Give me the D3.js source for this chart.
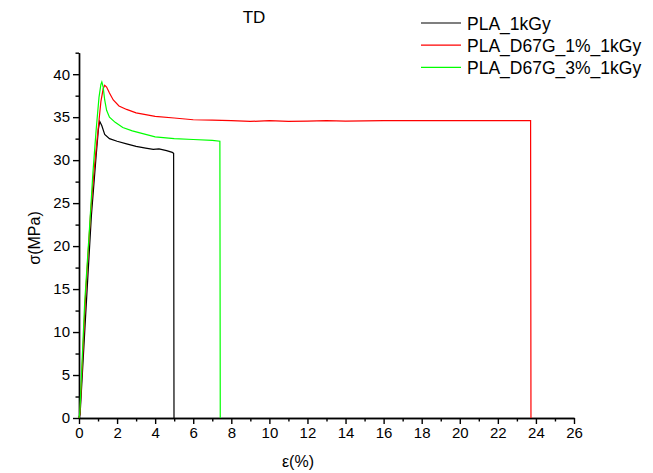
<!DOCTYPE html>
<html>
<head>
<meta charset="utf-8">
<script src="https://cdn.jsdelivr.net/npm/d3@7"></script>
<style>
  body { margin: 0; background: #fff; }
  text { font-family: "Liberation Sans", Arial, sans-serif; fill: #000; }
  .axis path, .axis line { stroke: #000; stroke-width: 1.4; }
  .axis text { font-size: 15px; }
</style>
</head>
<body>
<div id="chart-area"></div>
<script>
// series: strain (%) and stress (MPa)
const seriesNames = ["PLA_1kGy", "PLA_D67G_1%_1kGy", "PLA_D67G_3%_1kGy"];
const seriesColors = ["#000000", "#ff0000", "#00ff00"];

const pla1Strain = [0, 0.06, 0.35, 0.65, 0.9, 1.02, 1.09, 1.2, 1.35, 1.6, 2, 2.5, 3, 3.5, 3.9, 4.2, 4.6, 4.9, 4.97, 4.99];
const pla1Stress = [0, 0.5, 12, 23.5, 30.5, 33.6, 34.5, 34.0, 33.0, 32.5, 32.2, 31.9, 31.6, 31.4, 31.25, 31.3, 31.1, 30.9, 30.8, 0];

const d1Strain = [0, 0.05, 0.35, 0.6, 0.8, 1.0, 1.15, 1.27, 1.35, 1.45, 1.6, 1.8, 2.1, 2.5, 3, 3.5, 4, 5, 6, 7, 8, 9, 10, 11, 12, 13, 14, 16, 18, 20, 22, 23.72, 23.74];
const d1Stress = [0, 0.5, 14.5, 23.5, 29, 33.5, 36.8, 38.3, 38.7, 38.5, 37.8, 37.0, 36.3, 35.9, 35.5, 35.3, 35.1, 34.9, 34.7, 34.65, 34.6, 34.5, 34.6, 34.5, 34.55, 34.6, 34.55, 34.6, 34.6, 34.6, 34.6, 34.6, 0];

const d3Strain = [0, 0.04, 0.3, 0.55, 0.73, 0.9, 1.05, 1.15, 1.2, 1.27, 1.35, 1.45, 1.6, 1.9, 2.3, 2.8, 3.5, 4, 5, 6, 7, 7.4, 7.42];
const d3Stress = [0, 0.5, 13.5, 22, 28.5, 33.5, 37.3, 38.8, 39.1, 38.5, 37.0, 35.8, 35.0, 34.4, 33.8, 33.4, 33.0, 32.7, 32.5, 32.4, 32.3, 32.2, 0];

const xMajorTicks = d3.range(0, 27, 2);
const xMinorTicks = d3.range(1, 26, 2);
const yMajorTicks = d3.range(0, 41, 5);
const yMinorTicks = d3.range(2.5, 43, 5);

let margin = { top: 52.7, right: 79, bottom: 55, left: 79 },
  width = 653 - margin.left - margin.right,
  height = 473 - margin.top - margin.bottom;

let svg = d3
  .select("#chart-area")
  .append("svg")
  .attr("width", 653)
  .attr("height", 473);

let g = svg.append("g")
  .attr("transform", "translate(" + margin.left + "," + margin.top + ")");

let x = d3.scaleLinear().domain([0, 26]).range([0, width]);
let y = d3.scaleLinear().domain([0, 42.5]).range([height, 0]);

// AXIS
let xAxis = d3.axisBottom(x).tickValues(xMajorTicks).tickSize(6).tickSizeOuter(0).tickPadding(3);
let xMinor = d3.axisBottom(x).tickValues(xMinorTicks).tickSize(3.5).tickFormat("").tickSizeOuter(0);
let yAxis = d3.axisLeft(y).tickValues(yMajorTicks).tickSize(6).tickSizeOuter(0).tickPadding(3);
let yMinor = d3.axisLeft(y).tickValues(yMinorTicks).tickSize(3.5).tickFormat("").tickSizeOuter(0);

g.append("g").attr("class", "axis").attr("transform", "translate(0," + height + ")").call(xMinor);
g.append("g").attr("class", "axis").attr("transform", "translate(0," + height + ")").call(xAxis);
g.append("g").attr("class", "axis").call(yMinor);
g.append("g").attr("class", "axis").call(yAxis);

// CURVES
let line = d3.line().x(d => x(d[0])).y(d => y(d[1]));
let allSeries = [
  d3.zip(pla1Strain, pla1Stress),
  d3.zip(d1Strain, d1Stress),
  d3.zip(d3Strain, d3Stress)
];
allSeries.forEach(function(s, i) {
  g.append("path")
    .datum(s)
    .attr("fill", "none")
    .attr("stroke", seriesColors[i])
    .attr("stroke-width", 1.2)
    .attr("d", line);
});

// TITLES
svg.append("text")
  .attr("x", 254).attr("y", 23)
  .attr("text-anchor", "middle")
  .style("font-size", "17px")
  .text("TD");

svg.append("text")
  .attr("x", 298).attr("y", 467)
  .attr("text-anchor", "middle")
  .style("font-size", "16px")
  .text("ε(%)");

svg.append("text")
  .attr("transform", "translate(40,238) rotate(-90)")
  .attr("text-anchor", "middle")
  .style("font-size", "16px")
  .text("σ(MPa)");

// LEGEND
let legend = svg.append("g").attr("transform", "translate(421,23)");
seriesNames.forEach(function(name, i) {
  let row = legend.append("g").attr("transform", "translate(0," + (i * 22.2) + ")");
  row.append("line")
    .attr("x1", 0).attr("x2", 40)
    .attr("stroke", seriesColors[i])
    .attr("stroke-width", 1.2);
  row.append("text")
    .attr("x", 46).attr("y", 6.5)
    .style("font-size", "17.5px")
    .text(name);
});
</script>
</body>
</html>
